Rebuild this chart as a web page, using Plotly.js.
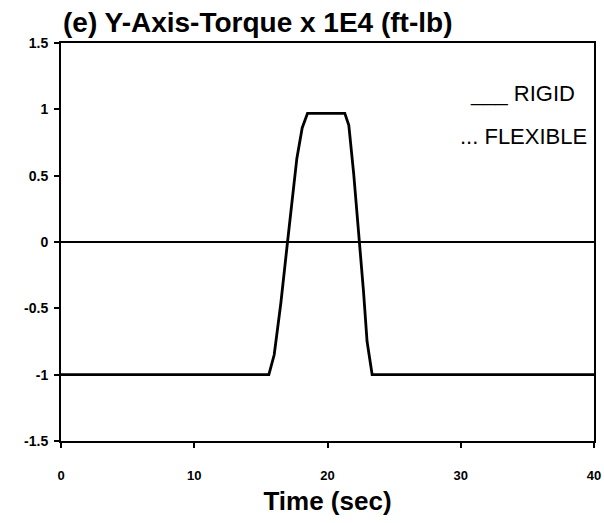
<!DOCTYPE html>
<html>
<head>
<meta charset="utf-8">
<script src="https://cdn.plot.ly/plotly-3.0.1.min.js"></script>
<style>html,body{margin:0;padding:0;background:#fff;}#chart{width:604px;height:523px;}</style>
</head>
<body>
<div id="chart"></div>
<script>
// Time (sec) and Y-axis torque (x 1E4 ft-lb)
const timeSec = [0, 15.6, 16.0, 16.5, 17.0, 17.35, 17.7, 18.1, 18.5, 21.3, 21.6, 21.97, 22.4, 22.7, 22.97, 23.35, 40];
const rigidTorque = [-1.0, -1.0, -0.85, -0.46, 0.0, 0.32, 0.63, 0.86, 0.97, 0.97, 0.88, 0.51, 0.0, -0.37, -0.75, -1.0, -1.0];
const xTickVals = [0, 10, 20, 30, 40];
const yTickVals = [-1.5, -1, -0.5, 0, 0.5, 1, 1.5];
const yTickText = ['-1.5', '-1', '-0.5', '0', '0.5', '1', '1.5'];
const legendLabels = ['___ RIGID', '... FLEXIBLE'];

const fontFam = 'Liberation Sans, Arial, sans-serif';

const traces = [{
  x: timeSec,
  y: rigidTorque,
  type: 'scatter',
  mode: 'lines',
  name: 'RIGID',
  line: {color: '#000', width: 2.8},
  showlegend: false,
  hoverinfo: 'skip'
}];

const layout = {
  width: 604,
  height: 523,
  margin: {l: 61, r: 10, t: 43, b: 82},
  paper_bgcolor: '#fff',
  plot_bgcolor: '#fff',
  showlegend: false,
  title: {
    text: '(e) Y-Axis-Torque x 1E4 (ft-lb)',
    font: {family: fontFam, size: 28, color: '#000', weight: 'bold'},
    x: 63 / 604, xanchor: 'left', xref: 'container',
    y: 1 - 12 / 523, yanchor: 'top', yref: 'container'
  },
  xaxis: {
    range: [0, 40],
    tickvals: xTickVals,
    ticktext: xTickVals.map(String),
    ticks: 'outside', ticklen: 5, tickwidth: 2, tickcolor: '#000',
    ticklabelstandoff: 16,
    showline: true, linecolor: '#000', linewidth: 2, mirror: true,
    showgrid: false, zeroline: false,
    tickfont: {family: fontFam, size: 13, color: '#000', weight: 'bold'},
    title: {text: 'Time (sec)', font: {family: fontFam, size: 26, color: '#000', weight: 'bold'}, standoff: 10}
  },
  yaxis: {
    range: [-1.5, 1.5],
    tickvals: yTickVals,
    ticktext: yTickText,
    ticks: 'outside', ticklen: 5, tickwidth: 2, tickcolor: '#000',
    ticklabelstandoff: 3,
    showline: true, linecolor: '#000', linewidth: 2, mirror: true,
    showgrid: false,
    zeroline: true, zerolinecolor: '#000', zerolinewidth: 2.6,
    tickfont: {family: fontFam, size: 14, color: '#000', weight: 'bold'}
  },
  annotations: [
    {text: legendLabels[0], xref: 'paper', yref: 'paper', x: 0.968, y: 0.874, xanchor: 'right', yanchor: 'middle', showarrow: false,
     font: {family: fontFam, size: 22, color: '#000'}},
    {text: legendLabels[1], xref: 'paper', yref: 'paper', x: 0.99, y: 0.764, xanchor: 'right', yanchor: 'middle', showarrow: false,
     font: {family: fontFam, size: 22, color: '#000'}}
  ]
};

Plotly.newPlot('chart', traces, layout, {displayModeBar: false, staticPlot: true});
</script>
</body>
</html>
